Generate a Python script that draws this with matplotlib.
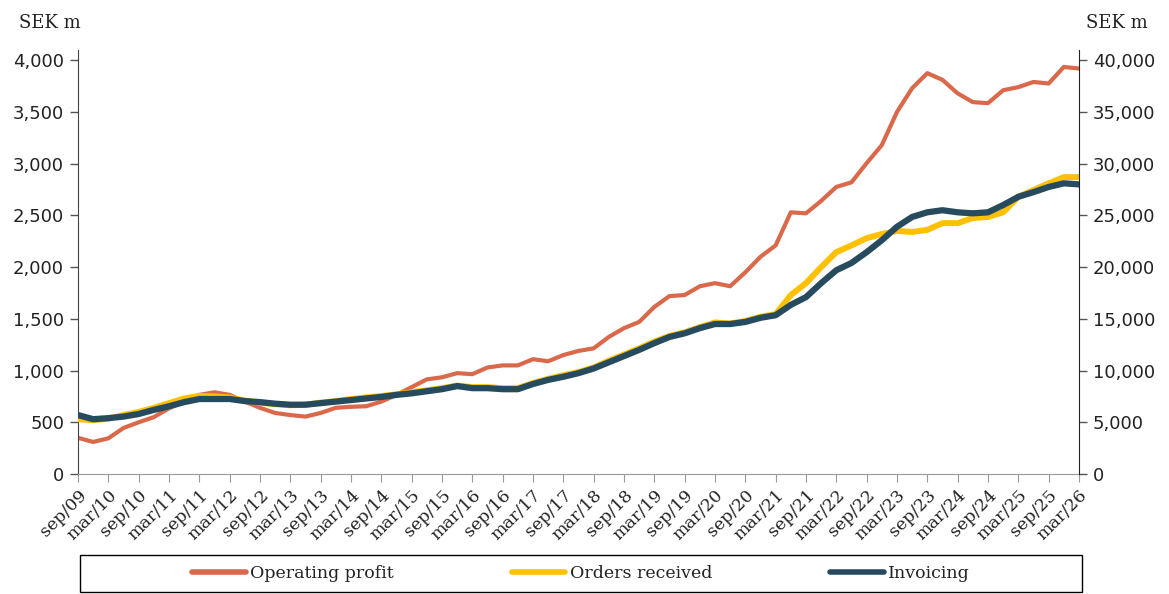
import matplotlib.pyplot as plt
from matplotlib.patches import Rectangle
from matplotlib.ticker import FuncFormatter

# quarterly points, sep/09 .. mar/26
operating_profit = [
    350, 310, 345, 445, 500, 550, 635, 700, 765, 790, 765, 700,
    640, 590, 570, 555, 590, 640, 650, 655, 700, 765, 840, 915,
    935, 975, 965, 1030, 1050, 1050, 1110, 1090, 1150, 1190, 1215, 1325,
    1410, 1470, 1615, 1720, 1730, 1815, 1845, 1815, 1950, 2100, 2210, 2530,
    2520, 2640, 2775, 2820, 3005, 3180, 3500, 3730, 3875, 3810, 3680, 3595,
    3585, 3710, 3740, 3790, 3775, 3935, 3920,
]
orders_received = [
    5300, 5200, 5350, 5700, 6000, 6400, 6850, 7300, 7550, 7500, 7400, 7100,
    6900, 6750, 6650, 6700, 6900, 7050, 7250, 7400, 7550, 7700, 7900, 8100,
    8300, 8550, 8400, 8400, 8300, 8300, 8800, 9200, 9550, 9850, 10300, 10950,
    11550, 12150, 12800, 13350, 13700, 14200, 14650, 14550, 14800, 15200, 15450, 17300,
    18450, 20000, 21450, 22100, 22800, 23200, 23500, 23400, 23600, 24250, 24250, 24750,
    24850, 25300, 26800, 27450, 28100, 28700, 28700,
]
invoicing = [
    5700, 5300, 5400, 5550, 5800, 6200, 6550, 6950, 7250, 7250, 7250, 7050,
    6950, 6800, 6700, 6700, 6850, 7000, 7150, 7300, 7450, 7650, 7800, 8000,
    8200, 8500, 8300, 8300, 8200, 8200, 8700, 9100, 9400, 9750, 10200, 10800,
    11400, 12000, 12650, 13250, 13600, 14100, 14500, 14500, 14700, 15100, 15350, 16350,
    17100, 18450, 19700, 20400, 21450, 22600, 23900, 24850, 25300, 25500, 25300, 25200,
    25300, 26000, 26800, 27250, 27750, 28100, 28000,
]
tick_labels = []
for yr in range(9, 27):
    if yr > 9:
        tick_labels.append(f"mar/{yr:02d}")
    if yr < 26:
        tick_labels.append(f"sep/{yr:02d}")

x = list(range(len(invoicing)))
slab = "DejaVu Serif"
col_op, col_or, col_inv = "#D9694A", "#FFC000", "#264A5E"

fig = plt.figure(figsize=(11.69, 5.94), dpi=100)
ax = fig.add_axes([0.0667, 0.202, 0.8563, 0.714])
ax2 = ax.twinx()

ax.plot(x, operating_profit, color=col_op, lw=3.0, solid_joinstyle="round", solid_capstyle="round")
ax2.plot(x, orders_received, color=col_or, lw=4.3, solid_joinstyle="round", solid_capstyle="round")
ax2.plot(x, invoicing, color=col_inv, lw=4.5, solid_joinstyle="round", solid_capstyle="round")

ax.set_xlim(0, len(x) - 1)
ax.set_ylim(0, 4100)
ax2.set_ylim(0, 41000)
ax.set_yticks(range(0, 4001, 500))
ax2.set_yticks(range(0, 40001, 5000))
fmt = FuncFormatter(lambda v, p: f"{int(v):,}")
ax.yaxis.set_major_formatter(fmt)
ax2.yaxis.set_major_formatter(fmt)

ax.set_xticks(x[::2])
ax.set_xticklabels(tick_labels, rotation=45, ha="right", rotation_mode="anchor",
                   fontsize=12.5, family=slab, color="#222222")

for a in (ax, ax2):
    a.spines["top"].set_visible(False)
    a.tick_params(axis="y", labelsize=13, colors="#222222", length=6, width=1, pad=4)
ax.spines["right"].set_visible(False)
ax2.spines["left"].set_visible(False)
ax2.spines["bottom"].set_visible(False)
ax.spines["left"].set_color("#444444")
ax2.spines["right"].set_color("#222222")
ax.spines["bottom"].set_color("#999999")
ax.tick_params(axis="x", length=6, color="#999999", pad=3)
ax.tick_params(axis="y", color="#555555")
ax2.tick_params(axis="y", color="#555555")

fig.text(0.016, 0.962, "SEK m", family=slab, fontsize=13, color="#222222", va="center")
fig.text(0.929, 0.962, "SEK m", family=slab, fontsize=13, color="#222222", va="center")

# legend box spanning the plot width, entries centred inside it
fig.patches.append(Rectangle((0.0684, 0.003), 0.857, 0.062, transform=fig.transFigure,
                             fill=False, edgecolor="black", linewidth=1.0))
h1, = ax.plot([], [], color=col_op, lw=4, solid_capstyle="round")
h2, = ax.plot([], [], color=col_or, lw=4, solid_capstyle="round")
h3, = ax.plot([], [], color=col_inv, lw=4, solid_capstyle="round")
leg = fig.legend([h1, h2, h3], ["Operating profit", "Orders received", "Invoicing"],
                 loc="center", bbox_to_anchor=(0.497, 0.034), ncol=3, frameon=False,
                 handlelength=3.1, handletextpad=0.25, columnspacing=6.8,
                 prop={"family": slab, "size": 12.5}, borderaxespad=0)
for t in leg.get_texts():
    t.set_color("#222222")

fig.savefig("out.png", dpi=100)
